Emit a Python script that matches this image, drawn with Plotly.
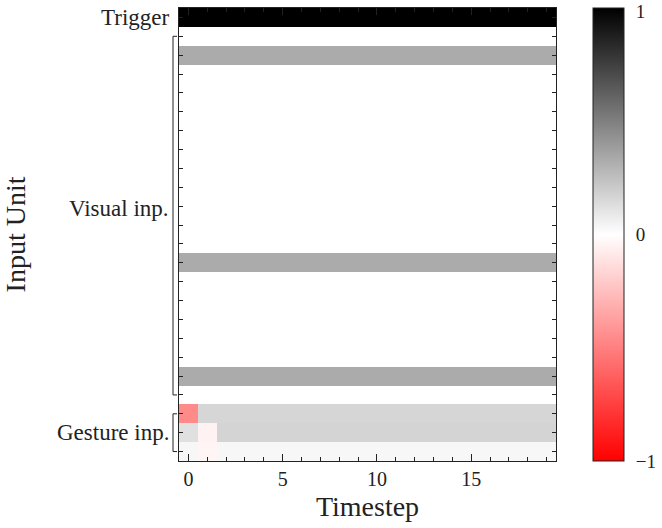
import plotly.graph_objects as go

# ---- data ----
timesteps = list(range(20))
trigger_values = [1, 1, 1, 1, 1, 1, 1, 1, 1, 1, 1, 1, 1, 1, 1, 1, 1, 1, 1, 1]
# visual units are constant over time: one level per unit
visual_levels = [0, 0.33, 0, 0, 0, 0, 0, 0, 0, 0, 0, 0, 0.33, 0, 0, 0, 0, 0, 0.33, 0]
gesture_unit0 = [-0.46, 0.16, 0.16, 0.16, 0.16, 0.16, 0.16, 0.16, 0.16, 0.16,
                 0.16, 0.16, 0.16, 0.16, 0.16, 0.16, 0.16, 0.16, 0.16, 0.16]
gesture_unit1 = [0.12, -0.05, 0.17, 0.17, 0.17, 0.17, 0.17, 0.17, 0.17, 0.17,
                 0.17, 0.17, 0.17, 0.17, 0.17, 0.17, 0.17, 0.17, 0.17, 0.17]
gesture_unit2 = [0.03, -0.04, 0.03, 0.03, 0.03, 0.03, 0.03, 0.03, 0.03, 0.03,
                 0.03, 0.03, 0.03, 0.03, 0.03, 0.03, 0.03, 0.03, 0.03, 0.03]
group_labels = ["Trigger", "Visual inp.", "Gesture inp."]
x_tickvals = [0, 5, 10, 15]
cbar_tickvals = [-1, 0, 0.985]
cbar_ticktext = ["\u22121", "0", "1"]

z = [trigger_values]
for lv in visual_levels:
    z.append([lv for _ in timesteps])
z += [gesture_unit0, gesture_unit1, gesture_unit2]
units = list(range(len(z)))

n_vis = len(visual_levels)
vis_first, vis_last = 1, n_vis
ges_first, ges_last = n_vis + 1, n_vis + 3

FONT = "Liberation Serif"
INK = "#222"
L, R, T, B = 179, 106, 8, 67
PW = 662 - L - R

fig = go.Figure()
fig.add_trace(go.Heatmap(
    z=z, x=timesteps, y=units,
    zmin=-1, zmax=1,
    colorscale=[[0, "rgb(255,0,0)"], [0.5, "rgb(255,255,255)"], [1, "rgb(0,0,0)"]],
    colorbar=dict(
        x=(593 - L) / PW, xanchor="left", y=0.5, yanchor="middle",
        thickness=31, thicknessmode="pixels",
        len=1, lenmode="fraction",
        outlinewidth=1, outlinecolor=INK,
        tickvals=cbar_tickvals, ticktext=cbar_ticktext,
        ticks="outside", ticklen=8, tickcolor="rgba(0,0,0,0)",
        ticklabeloverflow="allow",
        tickfont=dict(family=FONT, size=19, color=INK),
        xpad=0, ypad=0,
    ),
))

# inside tick at colorbar value 0
cb_right = (624 - L) / PW
fig.add_shape(type="line", xref="paper", yref="paper",
              x0=cb_right - 6 / PW, x1=cb_right, y0=0.5, y1=0.5,
              line=dict(color=INK, width=1))

fig.update_xaxes(
    range=[-0.5, 19.5], tickvals=x_tickvals,
    ticks="inside", ticklen=7, tickwidth=1, tickcolor=INK,
    minor=dict(dtick=1, ticks="inside", ticklen=4, tickcolor=INK),
    showline=True, linecolor=INK, linewidth=1, mirror="allticks",
    showgrid=False, zeroline=False, automargin=False,
    tickfont=dict(family=FONT, size=20, color=INK),
    title=dict(text="Timestep", font=dict(family=FONT, size=28, color=INK), standoff=7),
)
fig.update_yaxes(
    range=[len(z) - 0.5, -0.5], tickvals=units, showticklabels=False,
    ticks="inside", ticklen=4, tickwidth=1, tickcolor=INK,
    showline=True, linecolor=INK, linewidth=1, mirror="allticks",
    showgrid=False, zeroline=False, automargin=False,
    title=dict(text="Input Unit", font=dict(family=FONT, size=28, color=INK), standoff=146),
)

# group labels
label_rows = [0, 10.1, (ges_first + ges_last) / 2]
for txt, yr in zip(group_labels, label_rows):
    fig.add_annotation(x=-0.021, y=yr, xref="paper", yref="y", text=txt,
                       showarrow=False, xanchor="right", yanchor="middle",
                       font=dict(family=FONT, size=23, color=INK))

# brackets
xb, xe = -6 / PW, -2 / PW
for a, b in [(vis_first, vis_last), (ges_first, ges_last)]:
    for (x0, y0, x1, y1) in [(xb, a, xb, b), (xb, a, xe, a), (xb, b, xe, b)]:
        fig.add_shape(type="line", xref="paper", yref="y", x0=x0, y0=y0, x1=x1, y1=y1,
                      line=dict(color=INK, width=1))

fig.update_layout(
    width=662, height=528,
    margin=dict(l=L, r=R, t=T, b=B, autoexpand=False),
    paper_bgcolor="white", plot_bgcolor="white",
    font=dict(family=FONT, color=INK),
)

fig.write_html("out.html")
